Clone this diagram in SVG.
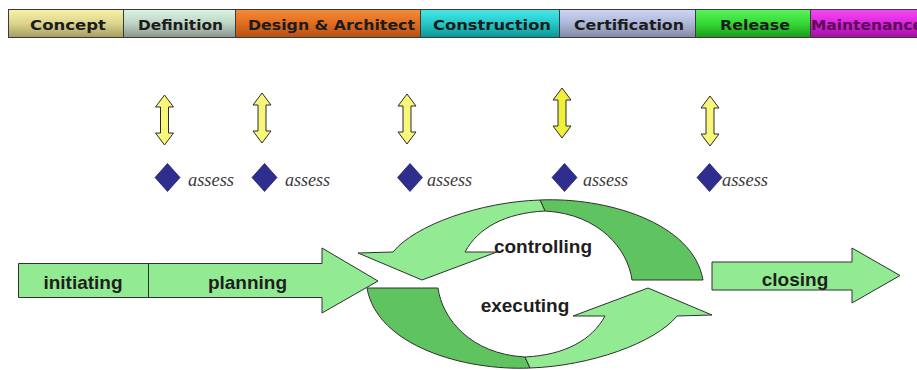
<svg xmlns="http://www.w3.org/2000/svg" width="917" height="370" viewBox="0 0 917 370">
<defs>
<style>
.seg{stroke:#3a3a3a;stroke-width:1}
.ph{font-family:"DejaVu Sans","Liberation Sans",sans-serif;font-weight:bold;font-size:14.5px;fill:#1c1c1c;text-anchor:middle}
.dbl{fill:#f7f77a;stroke:#2a2a2a;stroke-width:1}
.dia{fill:#2e2e8e;stroke:#24246e;stroke-width:0.8}
.as{font-family:"Liberation Serif","DejaVu Serif",serif;font-style:italic;font-size:18px;fill:#3a3a3a}
.lt{fill:#92ea92;stroke:#303030;stroke-width:1}
.dk{fill:#5fc45f;stroke:#303030;stroke-width:1}
.lbl{font-family:"Liberation Sans",Arial,sans-serif;font-weight:bold;font-size:19px;fill:#1e1e1e;text-anchor:middle}
</style>
<linearGradient id="gCon" x1="0" y1="0" x2="0" y2="1"><stop offset="0" stop-color="#f6f2a8"/><stop offset="0.5" stop-color="#dcd48c"/><stop offset="1" stop-color="#a49c62"/></linearGradient>
<linearGradient id="gDef" x1="0" y1="0" x2="0" y2="1"><stop offset="0" stop-color="#dcf4e4"/><stop offset="0.5" stop-color="#bcd4c4"/><stop offset="1" stop-color="#8a948c"/></linearGradient>
<linearGradient id="gDes" x1="0" y1="0" x2="0" y2="1"><stop offset="0" stop-color="#f68c3a"/><stop offset="0.5" stop-color="#e06c20"/><stop offset="1" stop-color="#b45014"/></linearGradient>
<linearGradient id="gCst" x1="0" y1="0" x2="0" y2="1"><stop offset="0" stop-color="#48e8e8"/><stop offset="0.5" stop-color="#24c8c8"/><stop offset="1" stop-color="#0e9494"/></linearGradient>
<linearGradient id="gCer" x1="0" y1="0" x2="0" y2="1"><stop offset="0" stop-color="#cfd6f4"/><stop offset="0.5" stop-color="#aeb6d8"/><stop offset="1" stop-color="#8289a4"/></linearGradient>
<linearGradient id="gRel" x1="0" y1="0" x2="0" y2="1"><stop offset="0" stop-color="#5cf45c"/><stop offset="0.5" stop-color="#34d834"/><stop offset="1" stop-color="#1a9a1a"/></linearGradient>
<linearGradient id="gMai" x1="0" y1="0" x2="0" y2="1"><stop offset="0" stop-color="#f44cf4"/><stop offset="0.5" stop-color="#dc24dc"/><stop offset="1" stop-color="#a010a0"/></linearGradient>
<path id="dblArrow" d="M0,0 L9,12 L4,12 L4,38 L9,38 L0,50 L-9,38 L-4,38 L-4,12 L-9,12 Z"/>
<path id="diamond" d="M0,-14 L12.5,0 L0,14 L-12.5,0 Z"/>
</defs>
<rect width="917" height="370" fill="#ffffff"/>

<g id="phase-concept"><rect class="seg" x="8.5" y="9.5" width="115" height="28" fill="url(#gCon)"/><text class="ph" x="68" y="30" textLength="76" lengthAdjust="spacingAndGlyphs">Concept</text></g>
<g id="phase-definition"><rect class="seg" x="123.5" y="9.5" width="112" height="28" fill="url(#gDef)"/><text class="ph" x="180.5" y="30" textLength="85" lengthAdjust="spacingAndGlyphs">Definition</text></g>
<g id="phase-design"><rect class="seg" x="235.5" y="9.5" width="185" height="28" fill="url(#gDes)"/><text class="ph" x="331.5" y="30" textLength="167" lengthAdjust="spacingAndGlyphs">Design &amp; Architect</text></g>
<g id="phase-construction"><rect class="seg" x="420.5" y="9.5" width="139" height="28" fill="url(#gCst)"/><text class="ph" x="492" y="30" textLength="118" lengthAdjust="spacingAndGlyphs">Construction</text></g>
<g id="phase-certification"><rect class="seg" x="559.5" y="9.5" width="136" height="28" fill="url(#gCer)"/><text class="ph" x="629" y="30" textLength="110" lengthAdjust="spacingAndGlyphs">Certification</text></g>
<g id="phase-release"><rect class="seg" x="695.5" y="9.5" width="115" height="28" fill="url(#gRel)"/><text class="ph" x="755" y="30" textLength="70" lengthAdjust="spacingAndGlyphs">Release</text></g>
<g id="phase-maintenance"><rect class="seg" x="810.5" y="9.5" width="110" height="28" fill="url(#gMai)"/><text class="ph" x="811" y="30" style="text-anchor:start;fill:#5a0a5a" textLength="112" lengthAdjust="spacingAndGlyphs">Maintenance</text></g>

<g id="connectors">
<use href="#dblArrow" class="dbl" transform="translate(164.5,95)"/>
<use href="#dblArrow" class="dbl" transform="translate(262,93)"/>
<use href="#dblArrow" class="dbl" transform="translate(407,94)"/>
<use href="#dblArrow" class="dbl" transform="translate(562,88)" style="fill:#f0f03a"/>
<use href="#dblArrow" class="dbl" transform="translate(710,96)"/>
</g>

<g id="assess-1"><use href="#diamond" class="dia" transform="translate(167.5,177.5)"/><text class="as" x="188" y="186" textLength="46" lengthAdjust="spacingAndGlyphs">assess</text></g>
<g id="assess-2"><use href="#diamond" class="dia" transform="translate(264.5,177.5)"/><text class="as" x="285" y="186" textLength="45" lengthAdjust="spacingAndGlyphs">assess</text></g>
<g id="assess-3"><use href="#diamond" class="dia" transform="translate(410,177.5)"/><text class="as" x="427" y="186" textLength="45" lengthAdjust="spacingAndGlyphs">assess</text></g>
<g id="assess-4"><use href="#diamond" class="dia" transform="translate(564.5,177.5)"/><text class="as" x="583" y="186" textLength="45" lengthAdjust="spacingAndGlyphs">assess</text></g>
<g id="assess-5"><use href="#diamond" class="dia" transform="translate(709.5,177.5)"/><text class="as" x="722" y="186" textLength="46" lengthAdjust="spacingAndGlyphs">assess</text></g>

<g id="initiating-planning">
<path class="lt" d="M18.5,263.5 L322,263.5 L322,248 L378,281 L322,313 L322,297.5 L18.5,297.5 Z"/>
<line x1="148.5" y1="263.5" x2="148.5" y2="297.5" stroke="#303030" stroke-width="1"/>
<text class="lbl" x="83" y="289">initiating</text>
<text class="lbl" x="247.5" y="289">planning</text>
</g>

<g id="controlling">
<path class="dk" d="M540,200 C605,197 693,222 703,280 L632,280 C628,250 600,214 545,211 Z"/>
<path class="lt" d="M540,200 C480,202 415,225 393,252 L358,253 L422,280 L497,252 L465,252 C478,228 505,213 545,211 Z"/>
<text class="lbl" x="543" y="253">controlling</text>
</g>

<g id="executing">
<g transform="rotate(180 535 284)">
<path class="dk" d="M540,200 C605,197 693,222 703,280 L632,280 C628,250 600,214 545,211 Z"/>
<path class="lt" d="M540,200 C480,202 415,225 393,252 L358,253 L422,280 L497,252 L465,252 C478,228 505,213 545,211 Z"/>
</g>
<text class="lbl" x="525" y="312">executing</text>
</g>

<g id="closing">
<path class="lt" d="M712,262 L852,262 L852,248 L900,275.5 L852,303 L852,290 L712,290 Z"/>
<text class="lbl" x="795" y="286">closing</text>
</g>
</svg>
